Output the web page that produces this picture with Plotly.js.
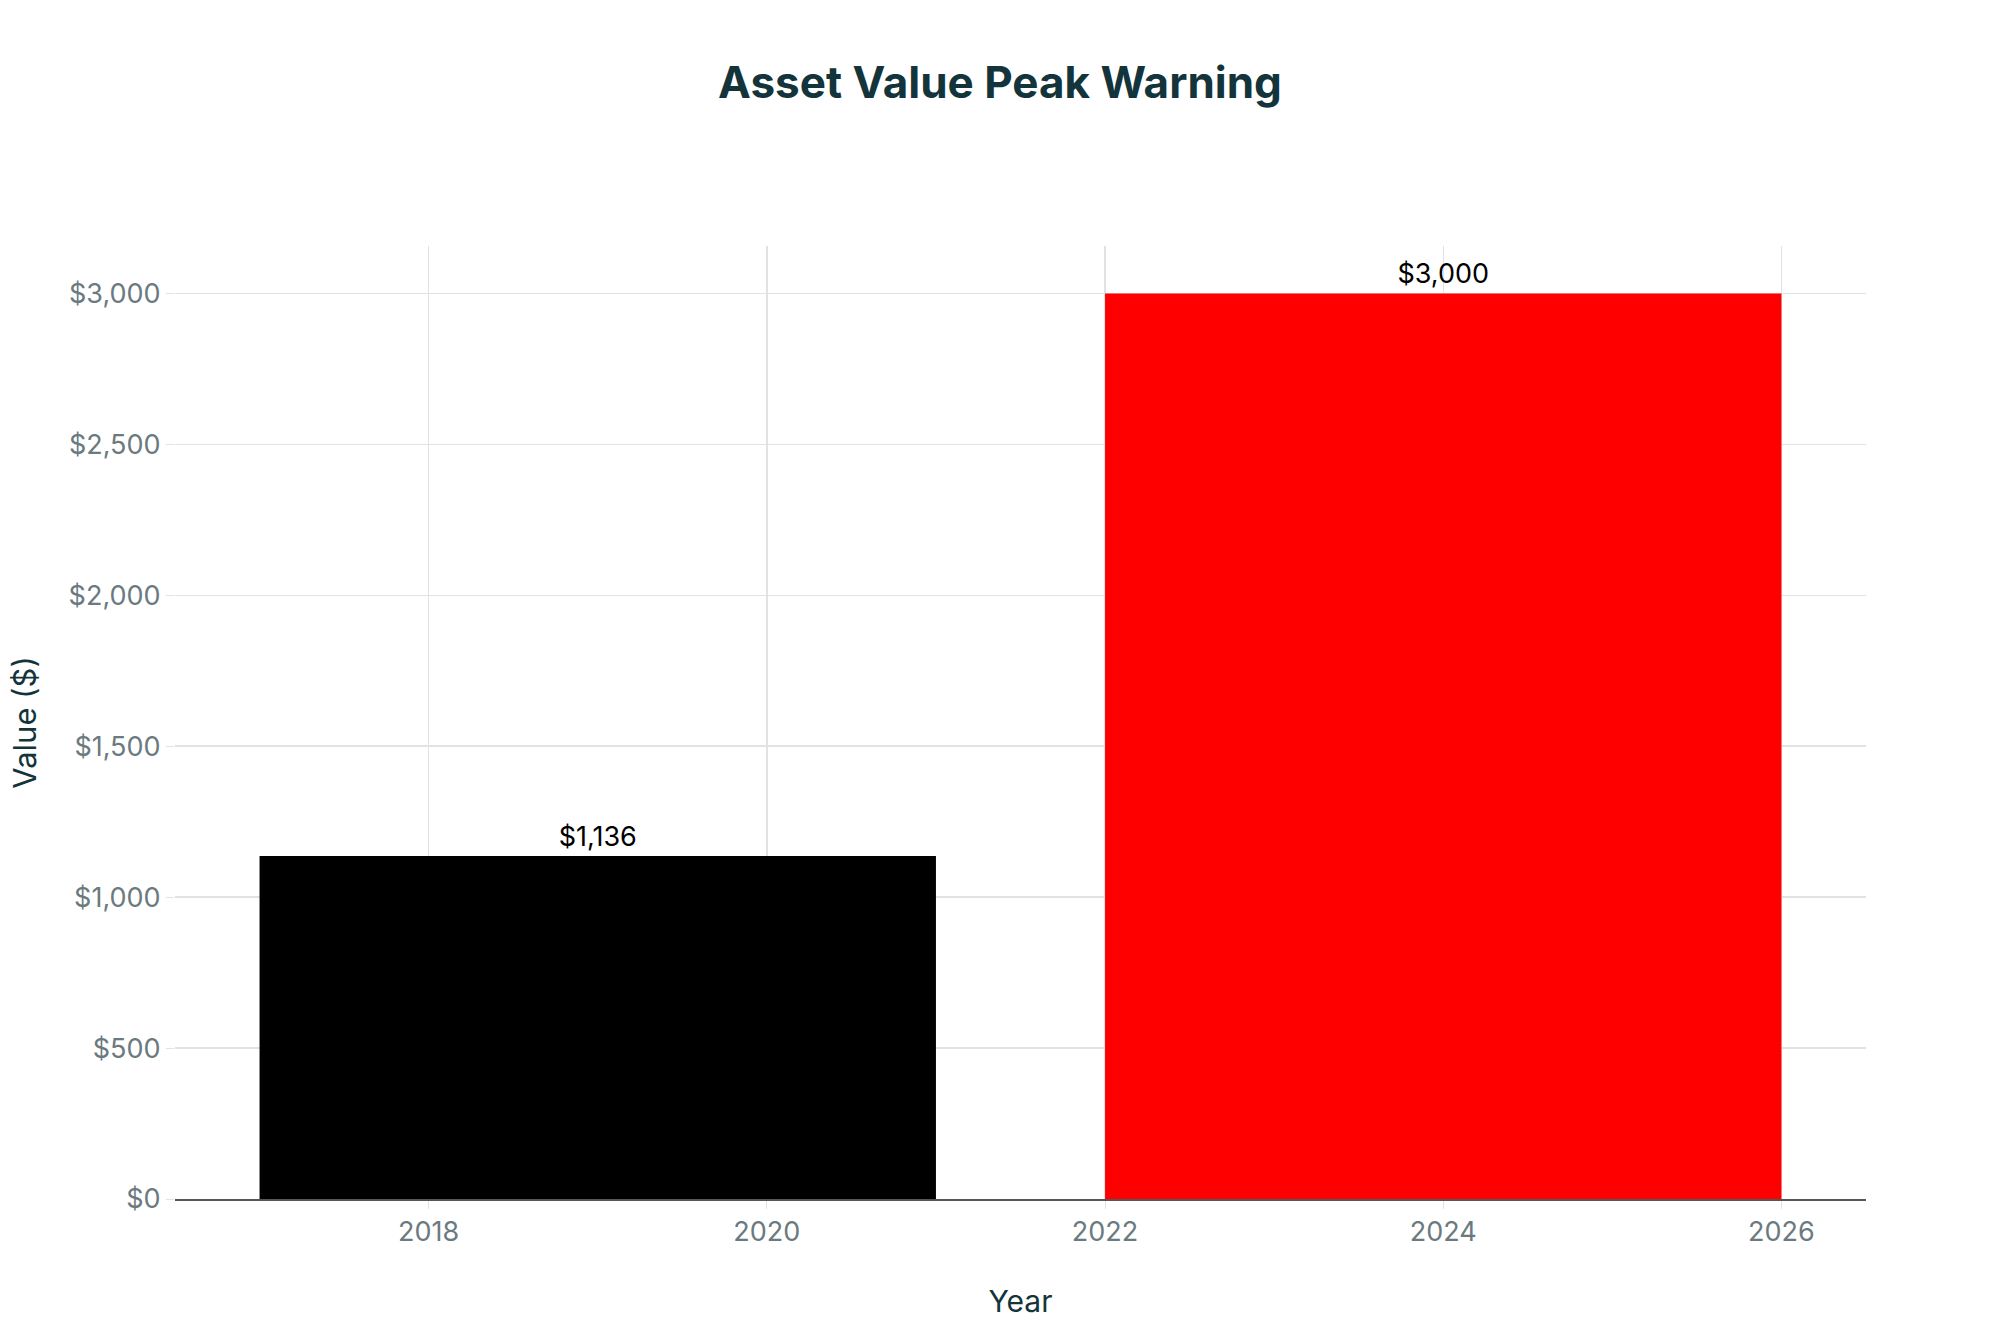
<!DOCTYPE html>
<html>
<head>
<meta charset="utf-8">
<script src="https://cdn.plot.ly/plotly-3.0.1.min.js"></script>
<style>html,body{margin:0;padding:0;background:#fff;}#chart{width:2000px;height:1333px;}</style>
</head>
<body>
<div id="chart"></div>
<script>
const years = [2019, 2024];
const values = [1136, 3000];
const labels = ["$1,136", "$3,000"];
const barColors = ["#000000", "#ff0000"];
const barWidths = [4, 4];
const titleText = "Asset Value Peak Warning";
const xTitle = "Year";
const yTitle = "Value ($)";

const font = "Inter, 'Liberation Sans', sans-serif";

const trace = {
  type: "bar",
  x: years,
  y: values,
  width: barWidths,
  text: labels,
  textposition: "outside",
  textfont: {family: font, size: 27, color: "#000000"},
  marker: {color: barColors, line: {width: 0}},
  cliponaxis: false,
  hoverinfo: "none"
};

const layout = {
  width: 2000,
  height: 1333,
  paper_bgcolor: "#ffffff",
  plot_bgcolor: "#ffffff",
  showlegend: false,
  margin: {l: 175, r: 134, t: 246, b: 134},
  font: {family: font},
  title: {
    text: "<b>" + titleText + "</b>",
    font: {family: font, size: 44, color: "#13343b"},
    x: 0.5, xanchor: "center", y: 0.938, yanchor: "middle"
  },
  xaxis: {
    range: [2016.5, 2026.5],
    tick0: 2018, dtick: 2,
    showgrid: true, gridcolor: "#e2e2e2", gridwidth: 1.5,
    ticks: "outside", ticklen: 8, tickcolor: "#e2e2e2",
    showline: true, linecolor: "#555555", linewidth: 1.5,
    zeroline: false,
    tickfont: {family: font, size: 27, color: "#6b7a80"},
    title: {text: xTitle, font: {family: font, size: 30, color: "#13343b"}, standoff: 44}
  },
  yaxis: {
    range: [0, 3157],
    dtick: 500,
    tickprefix: "$", tickformat: ",d",
    showgrid: true, gridcolor: "#e2e2e2", gridwidth: 1.5,
    ticks: "outside", ticklen: 8, tickcolor: "#e2e2e2",
    showline: false, zeroline: false,
    tickfont: {family: font, size: 27, color: "#6b7a80"},
    title: {text: yTitle, font: {family: font, size: 31, color: "#13343b"}, standoff: 22}
  },
  separators: ".,"
};

Plotly.newPlot("chart", [trace], layout, {displayModeBar: false, staticPlot: true});
</script>
</body>
</html>
